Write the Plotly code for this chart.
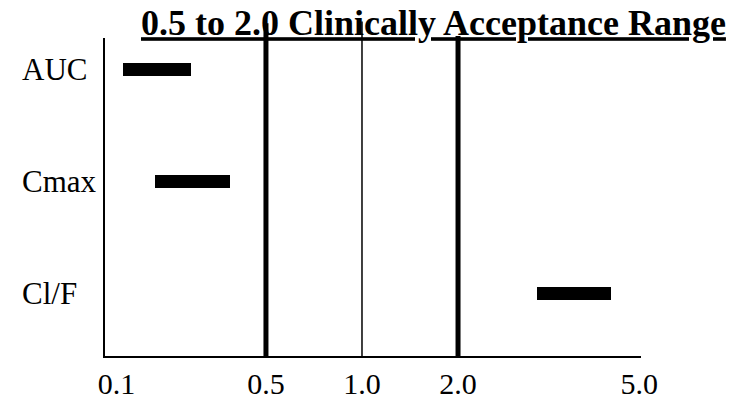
import numpy as np
import plotly.graph_objects as go

# ---- data ----
rows = ["AUC", "Cmax", "Cl/F"]
ratio_low = [0.178, 0.224, 3.54]
ratio_high = [0.291, 0.386, 6.04]

ref_values = [0.5, 1.0, 2.0]
ref_widths = [5, 1.5, 5]
ref_tops = [1.046, 1.052, 1.006]

tick_values = [0.17, 0.5, 1.0, 2.0, 7.4]
tick_labels = ["0.1", "0.5", "1.0", "2.0", "5.0"]

title_text = "0.5 to 2.0 Clinically Acceptance Range"

FONT = "Liberation Serif, Times New Roman, serif"

fig = go.Figure()
fig.add_trace(go.Bar(
    y=rows,
    x=[h - l for l, h in zip(ratio_low, ratio_high)],
    base=ratio_low,
    orientation="h",
    width=0.115,
    marker=dict(color="black", line=dict(width=0)),
    showlegend=False,
    hoverinfo="skip",
))

shapes = []
for v, w, top in zip(ref_values, ref_widths, ref_tops):
    shapes.append(dict(type="line", xref="x", yref="paper", x0=v, x1=v, y0=0, y1=top,
                       line=dict(color="black", width=w), layer="above"))

annotations = []
for r in rows:
    annotations.append(dict(text=r, xref="paper", yref="y", x=-0.1586, y=r,
                            xanchor="left", yanchor="middle", showarrow=False,
                            font=dict(family=FONT, size=31, color="black")))

fig.update_layout(
    width=744, height=404,
    margin=dict(l=97, r=111, t=30, b=47),
    paper_bgcolor="white", plot_bgcolor="white",
    title=dict(text="<b><u>" + title_text + "</u></b>", x=133 / 744, xanchor="left",
               xref="container", yref="container", y=1 - 2 / 404, yanchor="top",
               font=dict(family=FONT, size=36, color="black")),
    xaxis=dict(type="log", range=[-0.8056, 0.8746], tickvals=tick_values, ticktext=tick_labels,
               showgrid=False, zeroline=False, showline=True, linewidth=2, linecolor="black",
               ticks="", tickfont=dict(family=FONT, size=30, color="black")),
    yaxis=dict(type="category", categoryorder="array", categoryarray=rows,
               range=[2.554, -0.277], showgrid=False, zeroline=False, showline=True,
               linewidth=2, linecolor="black", showticklabels=False, ticks=""),
    shapes=shapes,
    annotations=annotations,
    bargap=0,
)

fig.write_html("out.html")
